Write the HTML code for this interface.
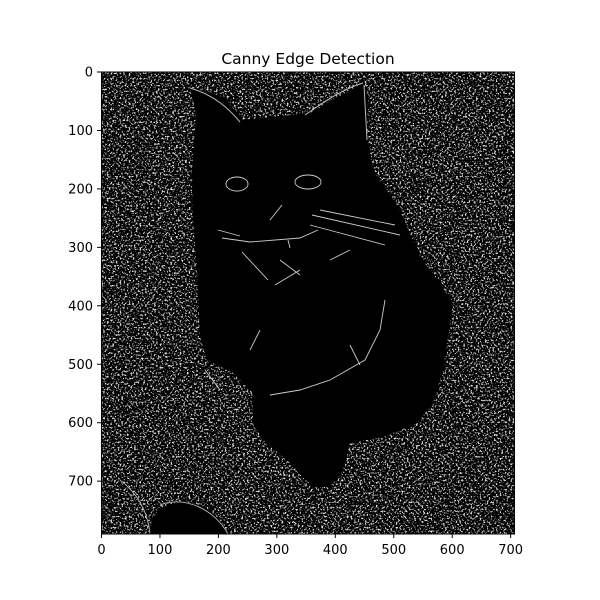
<!DOCTYPE html>
<html><head><meta charset="utf-8"><style>
html,body{margin:0;padding:0;background:#fff;}
svg{display:block;font-family:"DejaVu Sans","Liberation Sans",sans-serif;}
</style></head><body>
<svg width="600" height="600" viewBox="0 0 600 600">
<defs>
<filter id="speck" x="0" y="0" width="100%" height="100%">
<feTurbulence type="fractalNoise" baseFrequency="0.55" numOctaves="2" seed="7" result="n"/>
<feColorMatrix in="n" type="matrix" values="0 0 0 0 0.72  0 0 0 0 0.72  0 0 0 0 0.72  7 0 0 0 -3.75"/>
</filter>
<clipPath id="imgclip"><rect x="101.5" y="72" width="413" height="462"/></clipPath>
</defs>
<text x="308" y="64" text-anchor="middle" font-size="15.5" fill="#000">Canny Edge Detection</text>
<g clip-path="url(#imgclip)">
<rect x="101.5" y="72" width="413" height="462" fill="#000"/>
<rect x="101.5" y="72" width="413" height="462" fill="#fff" filter="url(#speck)"/>
<path fill="#000" d="M190,88 L196,113 L192,170 L193,220 L197,270 L200,337 L207,360 L233,373 L253,393 L253,423 L263,440 L287,460 L313,487 L330,487 L343,470 L350,443 L383,437 L417,423 L433,403 L443,370 L453,303 L440,283 L420,257 L400,210 L373,170 L367,133 L368,97 L363,83 L333,100 L310,113 L243,120 L223,97 Z"/>
<path d="M150,534 C150,505 175,498 200,505 C215,512 225,525 228,534 Z" fill="#000"/>
<path d="M120,480 C140,495 148,515 150,534 M160,505 C185,495 215,510 228,534" stroke="#aaa" stroke-width="1" fill="none"/>
<path d="M190,88 C215,95 230,110 240,122 M363,83 C340,90 320,105 305,115 M364,85 L367,140" stroke="#bbb" stroke-width="1" fill="none"/>
<g stroke="#ccc" stroke-width="0.9" fill="none">
<ellipse cx="237" cy="184" rx="11" ry="7"/>
<ellipse cx="308" cy="182" rx="13" ry="7"/>
<path d="M222,238 L250,242 L300,238 L318,230 M288,240 L290,248 M270,220 L282,205 M218,230 L240,236 M312,215 L400,235 M310,225 L385,245 M320,210 L395,225 M280,260 L300,275 M275,285 L300,270 M242,252 L268,280 M330,260 L350,250 M260,330 L250,350 M350,345 L360,365"/>
<path d="M270,395 L300,390 L330,380 L365,360 L380,330 L385,300 M205,370 L220,390"/>
</g>
</g>
<rect x="101.5" y="72" width="413" height="462" fill="none" stroke="#000" stroke-width="1"/>
<g id="xt"></g>
<g id="yt"></g>
</svg>
<script>
const xTicks=[0,100,200,300,400,500,600,700];
const yTicks=[0,100,200,300,400,500,600,700];
const x=v=>101.5+v*0.5845, y=v=>72+v*0.5845;
const ns="http://www.w3.org/2000/svg";
const xg=document.getElementById('xt'), yg=document.getElementById('yt');
xTicks.forEach(v=>{
  const l=document.createElementNS(ns,'line');
  l.setAttribute('x1',x(v));l.setAttribute('x2',x(v));l.setAttribute('y1',534);l.setAttribute('y2',538);l.setAttribute('stroke','#000');
  
  
  xg.appendChild(l);
  const t=document.createElementNS(ns,'text');
  t.setAttribute('x',x(v));t.setAttribute('y',554);t.setAttribute('text-anchor','middle');t.setAttribute('font-size','13');
  t.textContent=v;
  
  
  xg.appendChild(t);
});
yTicks.forEach(v=>{
  const l=document.createElementNS(ns,'line');
  l.setAttribute('x1',97);l.setAttribute('x2',101.5);l.setAttribute('y1',y(v));l.setAttribute('y2',y(v));l.setAttribute('stroke','#000');
  
  
  yg.appendChild(l);
  const t=document.createElementNS(ns,'text');
  t.setAttribute('x',93);t.setAttribute('y',y(v)+4.5);t.setAttribute('text-anchor','end');t.setAttribute('font-size','13');
  t.textContent=v;
  
  
  yg.appendChild(t);
});
</script>
</body></html>
